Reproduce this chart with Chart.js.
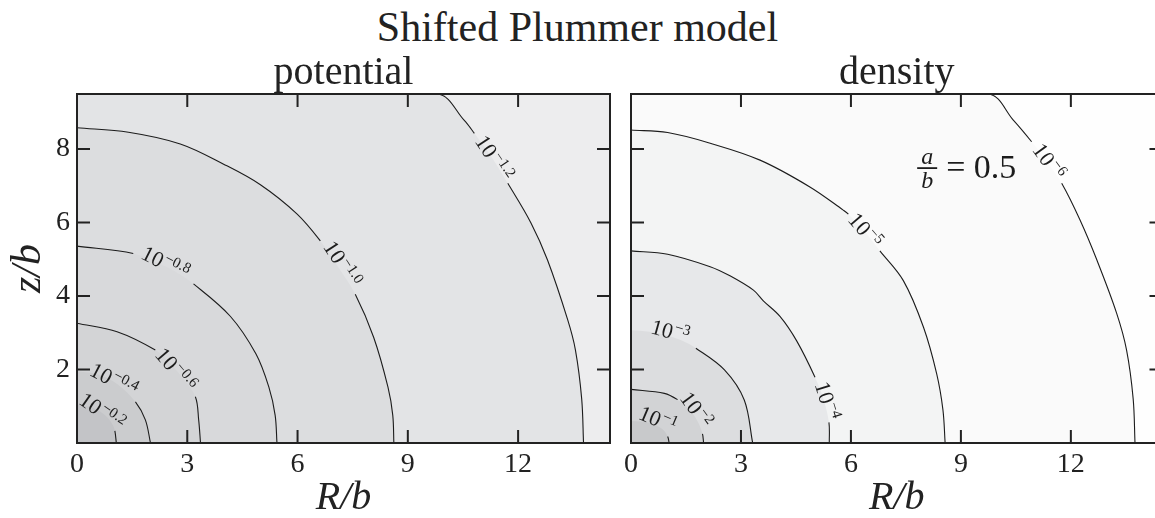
<!DOCTYPE html>
<html>
<head>
<meta charset="utf-8">
<script src="https://cdn.jsdelivr.net/npm/chart.js@4.4.1/dist/chart.umd.min.js"></script>
<style>
  html, body { margin: 0; padding: 0; background: #fff; overflow: hidden; width: 1155px; height: 518px; }
  #title { position: absolute; left: 0; top: 3px; width: 1155px; text-align: center; font: 42px/48px "Liberation Serif", serif; color: #222; }
  .panel { position: absolute; top: 0; height: 518px; }
  #left { left: 0; width: 625px; }
  #right { left: 615px; width: 560px; }
</style>
</head>
<body>
<div id="title">Shifted Plummer model</div>
<div class="panel" id="left"><canvas id="potential" width="625" height="518"></canvas></div>
<div class="panel" id="right"><canvas id="density" width="560" height="518"></canvas></div>
<script>
// axis ticks (R/b and z/b)
const rTicks = [0, 3, 6, 9, 12];
const zTicks = [2, 4, 6, 8];

// potential contours, inner to outer: R/b and z/b of points
const potentialLevels = ["\u22120.2", "\u22120.4", "\u22120.6", "\u22120.8", "\u22121.0", "\u22121.2"];
const potentialR = [
  [0, 0.45, 0.78, 0.97, 1.03, 1.07],
  [0, 0.6, 1.1, 1.59, 1.86, 2.0],
  [0, 1.09, 2.13, 2.5, 2.85, 3.22, 3.31, 3.36],
  [0, 1.53, 2.2, 2.7, 3.17, 4.17, 4.87, 5.22, 5.39, 5.44],
  [0, 1.4, 2.81, 3.99, 4.99, 5.99, 6.62, 7.1, 7.57, 8.07, 8.46, 8.59, 8.62],
  [0, 9.8, 10.53, 10.81, 11.28, 11.72, 12.35, 12.8, 13.35, 13.56, 13.73, 13.78]
];
const potentialZ = [
  [1.05, 0.95, 0.74, 0.5, 0.33, 0],
  [1.95, 1.86, 1.6, 1.12, 0.63, 0],
  [3.26, 3.03, 2.53, 2.2, 1.8, 1.26, 0.63, 0],
  [5.36, 5.16, 4.9, 4.65, 4.33, 3.45, 2.42, 1.52, 0.76, 0],
  [8.58, 8.46, 8.14, 7.59, 7.03, 6.23, 5.5, 4.8, 4.05, 2.88, 1.52, 0.76, 0],
  [9.5, 9.5, 8.79, 8.43, 7.78, 7.07, 5.99, 4.98, 3.35, 2.53, 1.2, 0]
];
const potentialGaps = [[0, 4], [0, 3], [2, 5], [1, 4], [6, 8], [3, 5]];
const potentialLabelR = [0.68, 1.0, 2.68, 2.4, 7.21, 11.34];
const potentialLabelZ = [0.85, 1.71, 1.99, 4.89, 4.87, 7.75];
const potentialShades = ["#c3c4c7", "#cbccce", "#d3d4d6", "#d8d9db", "#dcdddf", "#e3e4e6"];

// density contours, inner to outer
const densityLevels = ["\u22121", "\u22122", "\u22123", "\u22124", "\u22125", "\u22126"];
const densityR = [
  [0, 0.5, 0.85, 1.0, 1.04],
  [0, 0.91, 1.27, 1.55, 1.8, 1.95, 1.98],
  [0, 0.5, 1.0, 1.4, 1.77, 2.55, 3.09, 3.32],
  [0, 1.0, 2.16, 2.7, 3.34, 3.61, 4.07, 4.52, 5.02, 5.25, 5.4, 5.41],
  [0, 1.0, 2.16, 3.52, 4.88, 5.79, 5.93, 6.38, 6.79, 7.43, 7.98, 8.34, 8.51, 8.57],
  [0, 9.74, 10.43, 10.93, 11.35, 11.75, 12.25, 12.71, 13.25, 13.52, 13.7, 13.75]
];
const densityZ = [
  [0.6, 0.55, 0.38, 0.18, 0],
  [1.46, 1.35, 1.18, 0.95, 0.62, 0.25, 0],
  [3.07, 3.03, 2.92, 2.78, 2.58, 1.99, 1.17, 0],
  [5.23, 5.14, 4.8, 4.55, 4.16, 3.87, 3.44, 2.78, 1.79, 1.2, 0.56, 0],
  [8.52, 8.45, 8.16, 7.7, 6.97, 6.34, 6.23, 5.75, 5.23, 4.42, 3.15, 1.88, 0.9, 0],
  [9.5, 9.5, 8.79, 8.2, 7.65, 7.07, 6.07, 4.98, 3.53, 2.53, 1.2, 0]
];
const densityGaps = [[0, 3], [2, 5], [0, 4], [8, 10], [6, 8], [3, 5]];
const densityLabelR = [0.73, 1.77, 1.07, 5.34, 6.38, 11.39];
const densityLabelZ = [0.63, 0.9, 3.03, 1.15, 5.78, 7.66];
const densityShades = ["#c8c9cb", "#d2d3d5", "#dcdddf", "#e7e8ea", "#f3f4f4", "#fafafa"];

const serif = "'Liberation Serif', 'Times New Roman', serif";
const ink = "#1c1c1c";

// one filled dataset per band, and the contour lines drawn on top with gaps for labels
function contourDatasets(rs, zs, gaps, shades) {
  let fills = rs.map((r, i) => ({
    data: r.map((x, j) => ({ x: x, y: zs[i][j] })),
    borderWidth: 0,
    backgroundColor: shades[i],
    fill: "origin",
    pointRadius: 0,
    tension: 0.35,
    order: 2
  }));
  let lines = rs.map((r, i) => {
    let gap = gaps[i];
    let clipsTop = zs[i][0] === zs[i][1];
    return {
      data: r.map((x, j) => ({ x: x, y: zs[i][j] })),
      borderColor: ink,
      borderWidth: 1.1,
      fill: false,
      pointRadius: 0,
      tension: 0.35,
      order: 1,
      segment: {
        borderColor: ctx => {
          if (ctx.p0DataIndex >= gap[0] && ctx.p1DataIndex <= gap[1]) return "transparent";
          if (clipsTop && ctx.p0DataIndex === 0) return "transparent";
          return ink;
        }
      }
    };
  });
  return fills.concat(lines);
}

// background, contour labels, inward ticks and frame
const frame = {
  id: "frame",
  beforeDatasetsDraw(chart, args, opts) {
    let { ctx, chartArea: a } = chart;
    ctx.save();
    ctx.fillStyle = opts.outer;
    ctx.fillRect(a.left, a.top, a.right - a.left, a.bottom - a.top);
    ctx.restore();
  },
  afterDatasetsDraw(chart, args, opts) {
    let { ctx, chartArea: a, scales } = chart;
    let x = scales.x, y = scales.y;
    ctx.save();
    ctx.beginPath();
    ctx.rect(a.left, a.top, a.right - a.left, a.bottom - a.top);
    ctx.clip();
    ctx.fillStyle = ink;
    ctx.textBaseline = "middle";
    opts.labelR.forEach((r, i) => {
      let g = opts.gaps[i];
      let d = chart.data.datasets[i].data;
      let angle = Math.atan2(
        y.getPixelForValue(d[g[1]].y) - y.getPixelForValue(d[g[0]].y),
        x.getPixelForValue(d[g[1]].x) - x.getPixelForValue(d[g[0]].x)
      );
      ctx.save();
      ctx.translate(x.getPixelForValue(r), y.getPixelForValue(opts.labelZ[i]));
      ctx.rotate(angle);
      ctx.font = "22px " + serif;
      let wBase = ctx.measureText("10").width;
      ctx.font = "15px " + serif;
      let wSup = ctx.measureText(opts.levels[i]).width;
      let start = -(wBase + wSup + 1) / 2;
      ctx.textAlign = "left";
      ctx.font = "22px " + serif;
      ctx.fillText("10", start, 1);
      ctx.font = "15px " + serif;
      ctx.fillText(opts.levels[i], start + wBase + 1, -5);
      ctx.restore();
    });
    if (opts.note) {
      let nx = x.getPixelForValue(opts.note.r);
      let ny = y.getPixelForValue(opts.note.z);
      ctx.textAlign = "center";
      ctx.font = "italic 24px " + serif;
      ctx.fillText("a", nx, ny - 11);
      ctx.fillText("b", nx, ny + 13);
      ctx.fillRect(nx - 10, ny - 1, 20, 1.8);
      ctx.textAlign = "left";
      ctx.font = "34px " + serif;
      ctx.fillText("= 0.5", nx + 19, ny + 1);
    }
    ctx.restore();

    ctx.save();
    ctx.strokeStyle = "#222";
    ctx.lineWidth = 2;
    ctx.beginPath();
    x.ticks.forEach(t => {
      let px = x.getPixelForValue(t.value);
      ctx.moveTo(px, a.bottom); ctx.lineTo(px, a.bottom - 13);
      ctx.moveTo(px, a.top); ctx.lineTo(px, a.top + 13);
    });
    y.ticks.forEach(t => {
      let py = y.getPixelForValue(t.value);
      ctx.moveTo(a.left, py); ctx.lineTo(a.left + 13, py);
      ctx.moveTo(a.right, py); ctx.lineTo(a.right - 13, py);
    });
    ctx.stroke();
    ctx.strokeRect(a.left, a.top, a.right - a.left, a.bottom - a.top);
    ctx.restore();
  }
};

function makePanel(id, title, showZ, padRight, datasets, frameOpts) {
  return new Chart(document.getElementById(id), {
    type: "line",
    data: { datasets: datasets },
    plugins: [frame],
    options: {
      responsive: false,
      animation: false,
      events: [],
      layout: { padding: { left: 0, right: padRight, top: 0, bottom: 0 } },
      plugins: {
        legend: { display: false },
        tooltip: { enabled: false },
        title: {
          display: true,
          text: title,
          fullSize: false,
          color: "#222",
          font: { family: serif, size: 40, weight: "normal", lineHeight: 1 },
          padding: { top: 53, bottom: 1 }
        },
        frame: frameOpts
      },
      scales: {
        x: {
          type: "linear",
          min: 0,
          max: 14.5,
          afterBuildTicks: s => { s.ticks = rTicks.map(v => ({ value: v })); },
          afterFit: s => { s.height = 75; },
          grid: { display: false, drawTicks: false },
          border: { display: false },
          ticks: { color: "#222", padding: 5, autoSkip: false, maxRotation: 0, font: { family: serif, size: 28 } },
          title: {
            display: true,
            text: "R/b",
            color: "#222",
            font: { family: serif, size: 40, style: "italic", lineHeight: 1 },
            padding: { top: 0, bottom: 0 }
          }
        },
        y: {
          type: "linear",
          min: 0,
          max: 9.5,
          afterBuildTicks: s => { s.ticks = zTicks.map(v => ({ value: v })); },
          afterFit: s => { s.width = showZ ? 77 : 16; },
          grid: { display: false, drawTicks: false },
          border: { display: false },
          ticks: { display: showZ, color: "#222", padding: 7, font: { family: serif, size: 28 } },
          title: {
            display: showZ,
            text: "z/b",
            color: "#222",
            font: { family: serif, size: 42, style: "italic", lineHeight: 1 },
            padding: { top: 8, bottom: 0 }
          }
        }
      }
    }
  });
}

makePanel("potential", "potential", true, 15,
  contourDatasets(potentialR, potentialZ, potentialGaps, potentialShades),
  { outer: "#ededee", levels: potentialLevels, gaps: potentialGaps, labelR: potentialLabelR, labelZ: potentialLabelZ });

makePanel("density", "density", false, 12.5,
  contourDatasets(densityR, densityZ, densityGaps, densityShades),
  { outer: "#fefefe", levels: densityLevels, gaps: densityGaps, labelR: densityLabelR, labelZ: densityLabelZ, note: { r: 8.08, z: 7.48 } });
</script>
</body>
</html>
